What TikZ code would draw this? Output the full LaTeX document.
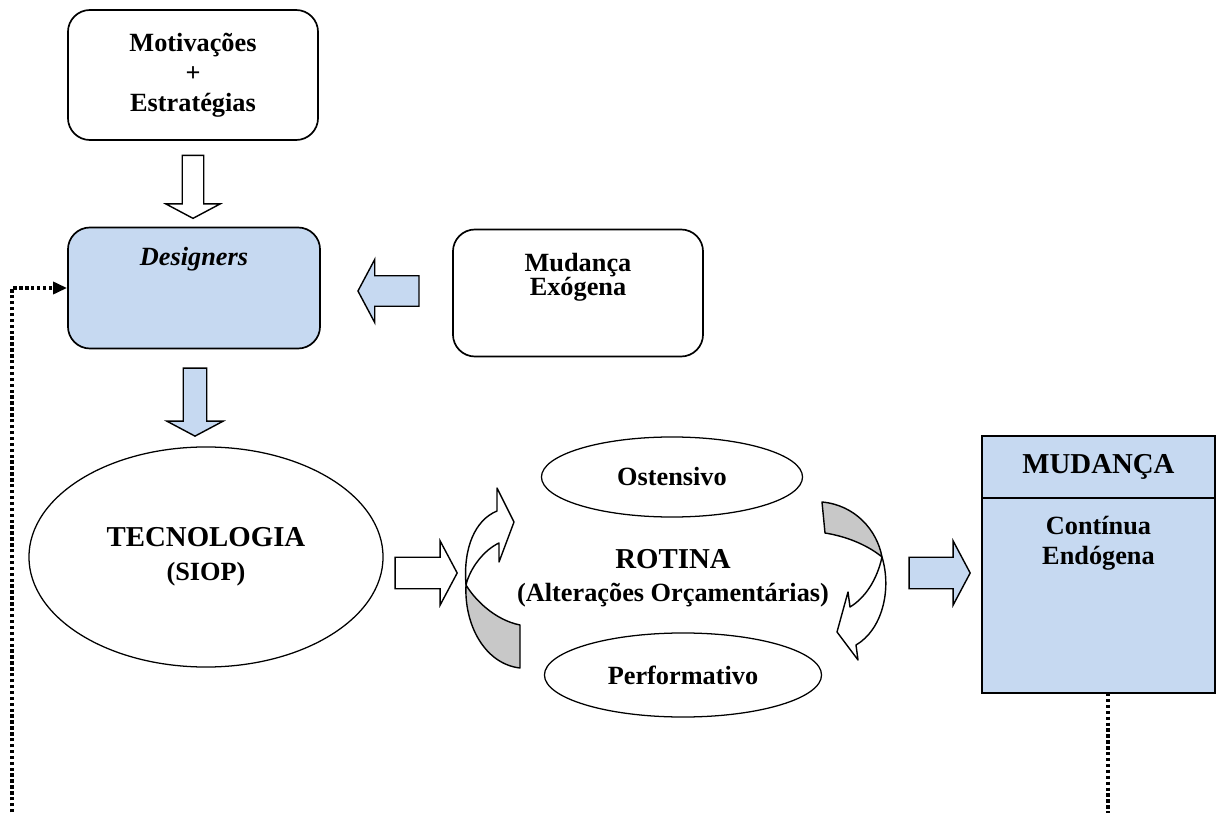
\documentclass[tikz,border=0pt]{standalone}
\usepackage{fontspec}
\setmainfont{Liberation Serif}
\usetikzlibrary{positioning,shapes.geometric,shapes.arrows,arrows.meta}

\definecolor{paleblue}{HTML}{C6D9F1}
\definecolor{twistgray}{HTML}{C8C8C8}

\newcommand{\bodysize}{\fontsize{18.7}{21.5}\selectfont\bfseries}
\newcommand{\headsize}{\fontsize{20.5}{24}\selectfont\bfseries}

\tikzset{
  roundbox/.style={draw, line width=1.2pt, rounded corners=0.55cm, align=center, font=\bodysize},
  bluebox/.style={roundbox, fill=paleblue},
  mudbox/.style={draw, line width=1.3pt, fill=paleblue, outer sep=0pt, minimum width=5.825cm},
  oval/.style={draw, ellipse, line width=0.9pt, align=center, font=\bodysize},
  blockarrow/.style={draw, single arrow, line width=1pt, inner sep=0pt,
    text height=#1, text width=#1, text depth=0pt,
    single arrow tip angle=124, single arrow head extend=0.41cm},
  twist/.style={draw, line width=1pt, line join=round},
  loopline/.style={line width=2.6pt, dash pattern=on 2.4pt off 1.8pt},
  boxtext/.style={inner sep=0pt, align=center, font=\bodysize},
}

\begin{document}
\begin{tikzpicture}[x=0.025cm, y=-0.025cm]
  \useasboundingbox (0,0) rectangle (1218,813);
  \clip (0,0) rectangle (1218,813);

  % Motivations and designers
  \node[roundbox, minimum width=6.25cm, minimum height=3.25cm] (mot) at (193,75) {Motivações\\+\\Estratégias} ; %
  \node[blockarrow=0.5cm, fill=white, shape border rotate=270, minimum height=1.575cm] (motarr) at (193,184) {} ; %
  \node[bluebox, minimum width=6.3cm, minimum height=3.025cm] (des) at (194,288) {} ; %
  \node[boxtext, font=\bodysize\itshape, below=0.5cm of des.north] (destext) {Designers} ; %

  % Exogenous change
  \node[roundbox, minimum width=6.25cm, minimum height=3.175cm] (exo) at (578,293) {} ; %
  \node[boxtext, font=\fontsize{18.7}{17.5}\selectfont\bfseries, below=0.6cm of exo.north] (exotext) {Mudança\\Exógena} ; %
  \node[blockarrow=0.725cm, fill=paleblue, shape border rotate=180, minimum height=1.525cm] (exoarr) at (392.5,291) {} ; %

  % Technology
  \node[blockarrow=0.55cm, fill=paleblue, shape border rotate=270, minimum height=1.7cm] (desarr) at (195,399) {} ; %
  \node[oval, minimum width=8.85cm, minimum height=5.5cm, font=\fontsize{18.7}{24}\selectfont\bfseries] (tec) at (206,557) {{\headsize TECNOLOGIA}\\(SIOP)} ; %
  \node[blockarrow=0.75cm, fill=white, minimum height=1.55cm] (tecarr) at (422,573) {} ; %

  % Routine
  \node[oval, minimum width=6.525cm, minimum height=2cm] (ost) at (672,477) {Ostensivo} ; %
  \node[oval, minimum width=6.925cm, minimum height=2.1cm] (perf) at (683,675) {Performativo} ; %
  \node[boxtext, font=\fontsize{18.7}{23.5}\selectfont\bfseries] (rot) at (673,578) {{\headsize ROTINA}\\(Alterações Orçamentárias)} ; %

  % twisted arrows round the routine
  \draw[twist, fill=twistgray] (466,585) .. controls (464,625) and (485,664) .. (520,668)
    -- (520,625) .. controls (495,620) and (475,600) .. (466,585) -- cycle ;
  \draw[twist, fill=white] (466,585) .. controls (463,548) and (475,520) .. (497,511)
    -- (497,488) -- (514,522) -- (499,562) -- (499,543)
    .. controls (484,550) and (470,568) .. (466,585) -- cycle ;
  \draw[twist, fill=twistgray] (822,502) .. controls (855,505) and (877,530) .. (882,557)
    .. controls (870,547) and (850,537) .. (825,533) -- cycle ;
  \draw[twist, fill=white] (882,557) .. controls (892,590) and (882,630) .. (856,645)
    -- (858,660) -- (837,632) -- (848,592) -- (850,607)
    .. controls (865,598) and (877,580) .. (882,557) -- cycle ;

  % Change
  \node[blockarrow=0.75cm, fill=paleblue, minimum height=1.525cm] (rotarr) at (935.5,573) {} ; %
  \node[mudbox, minimum height=1.55cm, font=\headsize] (mudhead) at (1098.5,467) {MUDANÇA} ; %
  \node[mudbox, minimum height=4.875cm, below=0cm of mudhead] (mudbody) {} ; %
  \node[boxtext, below=0.44cm of mudbody.north] (mudtext) {Contínua\\Endógena} ; %

  % feedback loop, cut by the page edge
  \coordinate (loopL) at (12,830) ;
  \coordinate (loopR) at (1108,830) ;
  \draw[loopline, -{Triangle[length=10pt, width=8.5pt]}] (loopL) |- (des.west) ;
  \draw[loopline] (mudbody.south -| loopR) -- (loopR) ;

\end{tikzpicture}
\end{document}
